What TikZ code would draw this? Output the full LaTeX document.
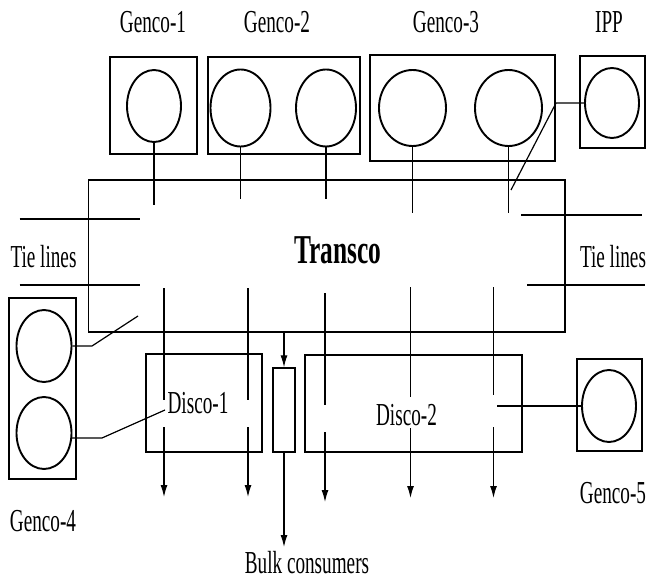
\documentclass[tikz,border=0pt]{standalone}
\usepackage{fontspec}
\setmainfont{Liberation Serif}
\usetikzlibrary{shapes.geometric,arrows.meta}

\tikzset{
  unitbox/.style={draw, line width=1.9pt, inner sep=0pt},
  gen/.style 2 args={draw, ellipse, line width=1.9pt, inner sep=0pt,
    minimum width=#1pt, minimum height=#2pt},
  lbl/.style={font=\fontsize{32}{34}\selectfont, xscale=0.6, anchor=base, inner sep=0pt},
  titlelbl/.style={font=\bfseries\fontsize{41}{43}\selectfont, xscale=0.62, anchor=base, inner sep=0pt},
  wire/.style={line width=1.2pt},
  tie/.style={line width=1.7pt},
}

\begin{document}
\begin{tikzpicture}[x=1pt, y=-1pt, >={Latex[length=12pt,width=7pt]}]
  \useasboundingbox (0,0) rectangle (648,580);

  % Transco
  \node[unitbox, minimum width=476.5pt, minimum height=152pt] (transco) at (326.75,256) {};
  \node[titlelbl] (transcoL) at (338,264) {Transco};

  % Gencos oben
  \node[unitbox, minimum width=87pt, minimum height=97pt] (g1box) at (153.5,105.5) {};
  \node[gen={54}{72}] (g1) at (154,106) {};
  \node[lbl] (g1L) at (153,33) {Genco-1};

  \node[unitbox, minimum width=152pt, minimum height=97pt] (g2box) at (284,105.5) {};
  \node[gen={60}{77}] (g2a) at (240.5,108) {};
  \node[gen={60}{77}] (g2b) at (326,108) {};
  \node[lbl] (g2L) at (277,33) {Genco-2};

  \node[unitbox, minimum width=185pt, minimum height=106pt] (g3box) at (462.5,108) {};
  \node[gen={67}{76}] (g3a) at (412.5,108) {};
  \node[gen={67}{76}] (g3b) at (508.5,108) {};
  \node[lbl] (g3L) at (446,33) {Genco-3};

  \node[unitbox, minimum width=65pt, minimum height=92pt] (ippbox) at (612.5,102) {};
  \node[gen={54}{70}] (ipp) at (612,103) {};
  \node[lbl] (ippL) at (609,33) {IPP};

  % Einspeisung in Transco
  \coordinate (t1) at (154,205);
  \coordinate (t2a) at (240.5,199);
  \coordinate (t2b) at (326,199);
  \coordinate (t3a) at (412.5,213);
  \coordinate (t3b) at (508.5,213);
  \draw[wire] (g1) -- (t1);
  \draw[wire] (g2a) -- (t2a);
  \draw[wire] (g2b) -- (t2b);
  \draw[wire] (g3a) -- (t3a);
  \draw[wire] (g3b) -- (t3b);
  \coordinate (ippk) at (556,103);
  \coordinate (ippt) at (511,190);
  \draw[wire] (ipp.west) -- (ippk) -- (ippt);

  % Tie lines
  \coordinate (tl1a) at (19.5,219);  \coordinate (tl1b) at (140,219);
  \coordinate (tl2a) at (19.5,285);  \coordinate (tl2b) at (140,285);
  \coordinate (tr1a) at (521,215);   \coordinate (tr1b) at (642,215);
  \coordinate (tr2a) at (527,285);   \coordinate (tr2b) at (645,285);
  \draw[tie] (tl1a) -- (tl1b);
  \draw[tie] (tl2a) -- (tl2b);
  \draw[tie] (tr1a) -- (tr1b);
  \draw[tie] (tr2a) -- (tr2b);
  \node[lbl] (tlL) at (43.5,267) {Tie lines};
  \node[lbl] (trL) at (613,267) {Tie lines};

  % Genco-4
  \node[unitbox, minimum width=67pt, minimum height=181pt] (g4box) at (42.5,388.5) {};
  \node[gen={55}{72}] (g4a) at (44,346) {};
  \node[gen={55}{72}] (g4b) at (44,433) {};
  \node[lbl] (g4L) at (43,531.5) {Genco-4};
  \coordinate (g4ak) at (92,346);
  \coordinate (g4at) at (138,316);
  \draw[wire] (g4a.east) -- (g4ak) -- (g4at);
  \coordinate (g4bk) at (102,438);
  \coordinate (g4bt) at (165,410);
  \draw[wire] (g4b.-10) -- (g4bk) -- (g4bt);

  % Discos
  \node[unitbox, minimum width=116pt, minimum height=98pt] (d1) at (204,403) {};
  \node[lbl] (d1L) at (198,413) {Disco-1};
  \node[unitbox, minimum width=217pt, minimum height=97pt] (d2) at (413.5,403.5) {};
  \node[lbl] (d2L) at (406.5,425) {Disco-2};

  % Abgaenge
  \foreach \fx/\ya/\yb/\yc/\yd [count=\i] in
    {164/288/400/427/497, 248/288/400/427/497, 325/293/405/432/502,
     410.5/287/397/428/498, 493.5/287/395/427/498}{
    \coordinate (fa\i) at (\fx,\ya);
    \coordinate (fb\i) at (\fx,\yb);
    \coordinate (fc\i) at (\fx,\yc);
    \coordinate (fd\i) at (\fx,\yd);
    \draw[wire] (fa\i) -- (fb\i);
    \draw[wire,->] (fc\i) -- (fd\i);
  }

  % Genco-5
  \node[unitbox, minimum width=65pt, minimum height=92pt] (g5box) at (609.5,405) {};
  \node[gen={54}{72}] (g5) at (609,406) {};
  \node[lbl] (g5L) at (613,503) {Genco-5};
  \coordinate (g5k) at (496.5,406);
  \draw[wire] (g5.west) -- (g5k);

  % Bulk consumers
  \node[unitbox, line width=1.3pt, minimum width=22pt, minimum height=84pt] (bulk) at (284,410) {};
  \coordinate (bulkend) at (284,547);
  \draw[wire,->] (transco.south -| bulk) -- (bulk.north);
  \draw[wire,->] (bulk.south) -- (bulkend);
  \node[lbl] (bulkL) at (307,573) {Bulk consumers};
\end{tikzpicture}
\end{document}
